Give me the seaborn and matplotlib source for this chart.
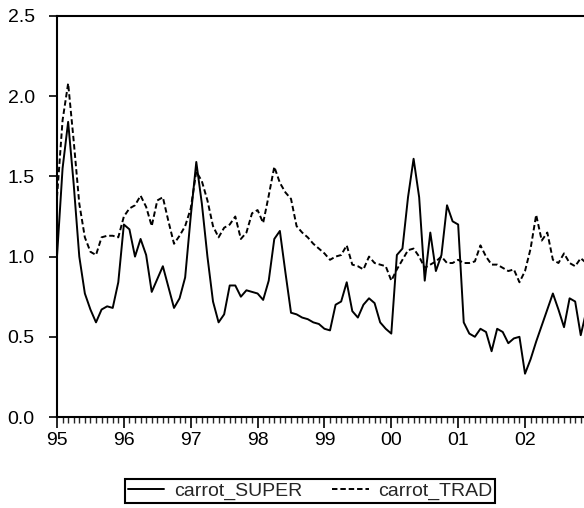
import matplotlib
matplotlib.use("Agg")
import matplotlib.pyplot as plt
import matplotlib.ticker as mticker
import numpy as np
import pandas as pd
import seaborn as sns

# monthly series starting Jan 1995
start_year = 1995
carrot_SUPER = [1.00, 1.55, 1.84, 1.45, 1.00, 0.77, 0.67, 0.59, 0.67, 0.69, 0.68, 0.84,
                1.20, 1.17, 1.00, 1.11, 1.01, 0.78, 0.86, 0.94, 0.81, 0.68, 0.74, 0.87,
                1.25, 1.59, 1.33, 1.00, 0.72, 0.59, 0.64, 0.82, 0.82, 0.75, 0.79, 0.78,
                0.77, 0.73, 0.85, 1.11, 1.16, 0.90, 0.65, 0.64, 0.62, 0.61, 0.59, 0.58,
                0.55, 0.54, 0.70, 0.72, 0.84, 0.66, 0.62, 0.70, 0.74, 0.71, 0.59, 0.55,
                0.52, 1.01, 1.05, 1.37, 1.61, 1.37, 0.85, 1.15, 0.91, 1.01, 1.32, 1.22,
                1.20, 0.59, 0.52, 0.50, 0.55, 0.53, 0.41, 0.55, 0.53, 0.46, 0.49, 0.50,
                0.27, 0.36, 0.47, 0.57, 0.67, 0.77, 0.67, 0.56, 0.74, 0.72, 0.51, 0.66]
carrot_TRAD = [1.37, 1.85, 2.08, 1.72, 1.33, 1.12, 1.03, 1.01, 1.12, 1.13, 1.13, 1.12,
               1.25, 1.30, 1.32, 1.38, 1.31, 1.19, 1.35, 1.37, 1.22, 1.08, 1.13, 1.19,
               1.30, 1.53, 1.47, 1.35, 1.19, 1.12, 1.18, 1.20, 1.25, 1.11, 1.15, 1.27,
               1.29, 1.21, 1.38, 1.56, 1.46, 1.40, 1.36, 1.19, 1.15, 1.12, 1.08, 1.05,
               1.02, 0.98, 1.00, 1.01, 1.07, 0.95, 0.94, 0.92, 1.00, 0.96, 0.95, 0.94,
               0.85, 0.92, 0.98, 1.04, 1.05, 1.00, 0.93, 0.95, 0.97, 1.00, 0.96, 0.96,
               0.98, 0.96, 0.96, 0.97, 1.07, 1.00, 0.95, 0.95, 0.93, 0.91, 0.92, 0.84,
               0.91, 1.05, 1.26, 1.10, 1.15, 0.98, 0.96, 1.02, 0.96, 0.94, 0.99, 0.96]
year_ticks = [1995, 1996, 1997, 1998, 1999, 2000, 2001, 2002]
year_labels = ["95", "96", "97", "98", "99", "00", "01", "02"]
y_ticks = [0.0, 0.5, 1.0, 1.5, 2.0, 2.5]

n = len(carrot_SUPER)
t = start_year + np.arange(n) / 12.0
df = pd.DataFrame({"t": t, "carrot_SUPER": carrot_SUPER, "carrot_TRAD": carrot_TRAD})

sns.set_style("white")
plt.rcParams["font.family"] = ["Liberation Sans", "DejaVu Sans"]

fig = plt.figure(figsize=(5.84, 5.08), dpi=100)
ax = fig.add_axes([57 / 584, 91 / 508, 560 / 584, 401 / 508])

sns.lineplot(data=df, x="t", y="carrot_SUPER", ax=ax, color="black", lw=1.4,
             label="carrot_SUPER")
sns.lineplot(data=df, x="t", y="carrot_TRAD", ax=ax, color="black", lw=1.4,
             label="carrot_TRAD")
ax.lines[1].set_dashes((2.8, 1.5))

ax.set_xlim(1995, 1995 + 560 / 66.86)
ax.set_ylim(0, 2.5)
ax.set_xticks(year_ticks)
ax.set_xticklabels(year_labels)
ax.xaxis.set_minor_locator(mticker.MultipleLocator(1 / 12))
ax.set_yticks(y_ticks)
ax.set_yticklabels([f"{v:.1f}" for v in y_ticks])
ax.set_xlabel("")
ax.set_ylabel("")

for s in ["left", "bottom", "top", "right"]:
    ax.spines[s].set_color("black")
    ax.spines[s].set_linewidth(1.5)

ax.tick_params(axis="both", which="major", direction="out", colors="black",
               labelsize=14, width=1.2, bottom=True, left=True)
ax.tick_params(axis="x", which="major", length=8, pad=3)
ax.tick_params(axis="x", which="minor", length=4.5, width=1.0, bottom=True)
ax.tick_params(axis="y", which="major", length=6, pad=10)

handles, labels = ax.get_legend_handles_labels()
ax.get_legend().remove()
leg = fig.legend(handles, labels, loc="center", bbox_to_anchor=(310 / 584, 17 / 508),
                 ncol=2, fontsize=14, frameon=True, fancybox=False, framealpha=1,
                 edgecolor="black", handlelength=1.9, handletextpad=0.5,
                 columnspacing=1.5, borderpad=0.15, borderaxespad=0)
leg.get_frame().set_linewidth(1.5)

fig.savefig("out.png", dpi=100)
